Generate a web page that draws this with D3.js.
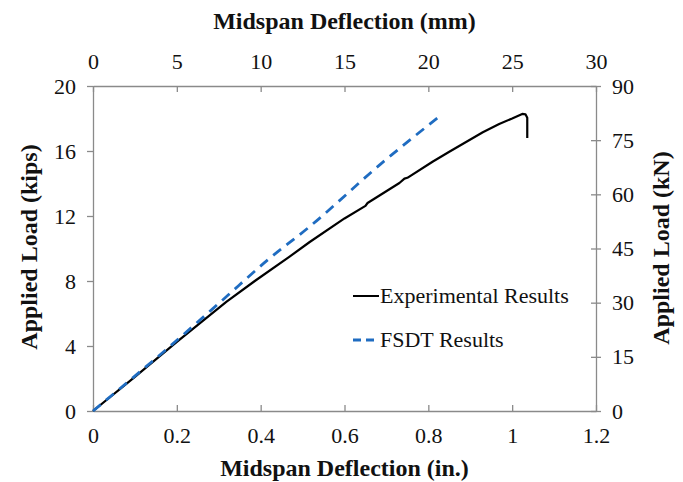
<!DOCTYPE html>
<html>
<head>
<meta charset="utf-8">
<script src="https://cdn.jsdelivr.net/npm/d3@7"></script>
<style>
body { margin: 0; background: #fff; }
svg text { font-family: "Liberation Serif", "Times New Roman", serif; fill: #111; }
</style>
</head>
<body>
<svg id="chart" width="683" height="482"></svg>
<script>
// deflection (in.) and load (kips)
var expDefl = [0, 0.1, 0.2, 0.318, 0.386, 0.469, 0.517, 0.6, 0.65, 0.655, 0.731, 0.743, 0.75, 0.81, 0.85, 0.89, 0.93, 0.969, 1.0, 1.024, 1.032, 1.036, 1.036];
var expLoad = [0, 2.1, 4.25, 6.72, 8.0, 9.5, 10.4, 11.85, 12.62, 12.8, 14.03, 14.3, 14.35, 15.34, 15.95, 16.55, 17.15, 17.66, 18.0, 18.28, 18.25, 18.05, 16.8];
var fsdtDefl = [0, 0.2, 0.31, 0.417, 0.517, 0.691, 0.834];
var fsdtLoad = [0, 4.35, 6.85, 9.3, 11.35, 15.3, 18.28];

var inTicks = [0, 0.2, 0.4, 0.6, 0.8, 1, 1.2];
var mmTicks = [0, 5, 10, 15, 20, 25, 30];
var kipTicks = [0, 4, 8, 12, 16, 20];
var knTicks = [0, 15, 30, 45, 60, 75, 90];

var mLeft = 93, mRight = 596, mTop = 86, mBottom = 411;
var axisColor = "#8a8a8a";

var svg = d3.select("#chart");

var x = d3.scaleLinear().domain([0, 1.2]).range([mLeft, mRight]);
var xmm = d3.scaleLinear().domain([0, 30]).range([mLeft, mRight]);
var y = d3.scaleLinear().domain([0, 20]).range([mBottom, mTop]);
var ykn = d3.scaleLinear().domain([0, 90]).range([mBottom, mTop]);

function styleAxis(g) {
  g.select(".domain").attr("stroke", axisColor).attr("stroke-width", 1.3);
  g.selectAll(".tick line").attr("stroke", axisColor).attr("stroke-width", 1.3);
  g.selectAll("text").attr("font-size", 22).attr("fill", "#111")
    .style("font-family", "'Liberation Serif', serif");
}

// bottom axis (in.)
svg.append("g")
    .attr("transform", "translate(0," + mBottom + ")")
    .call(d3.axisBottom(x).tickValues(inTicks).tickSizeInner(-6).tickSizeOuter(0)
      .tickPadding(16).tickFormat(d3.format("")))
    .call(styleAxis);

// top axis (mm)
svg.append("g")
    .attr("transform", "translate(0," + mTop + ")")
    .call(d3.axisTop(xmm).tickValues(mmTicks).tickSizeInner(-6).tickSizeOuter(0)
      .tickPadding(17))
    .call(styleAxis);

// left axis (kips)
svg.append("g")
    .attr("transform", "translate(" + mLeft + ",0)")
    .call(d3.axisLeft(y).tickValues(kipTicks).tickSizeInner(6).tickSizeOuter(0).tickPadding(11))
    .call(styleAxis);

// right axis (kN)
svg.append("g")
    .attr("transform", "translate(" + mRight + ",0)")
    .call(d3.axisRight(ykn).tickValues(knTicks).tickSizeInner(5).tickSizeOuter(0).tickPadding(11))
    .call(styleAxis)
    .selectAll(".tick line").attr("x1", -5);

// curves
var expData = expDefl.map(function(d, i) { return [d, expLoad[i]]; });
var fsdtData = fsdtDefl.map(function(d, i) { return [d, fsdtLoad[i]]; });

var line = d3.line()
    .x(function(d) { return x(d[0]); })
    .y(function(d) { return y(d[1]); });

svg.append("path")
    .datum(expData)
    .attr("d", line)
    .attr("fill", "none")
    .attr("stroke", "#000")
    .attr("stroke-width", 2.2)
    .attr("stroke-linejoin", "round");

svg.append("path")
    .datum(fsdtData)
    .attr("d", line.curve(d3.curveMonotoneX))
    .attr("fill", "none")
    .attr("stroke", "#1f6cc1")
    .attr("stroke-width", 2.8)
    .attr("stroke-dasharray", "10,7");

// legend
var legend = [
  {name: "Experimental Results", color: "#000", dash: null, w: 2},
  {name: "FSDT Results", color: "#1f6cc1", dash: "8,5", w: 2.8}
];
var lg = svg.selectAll(".legend").data(legend).enter().append("g")
    .attr("transform", function(d, i) { return "translate(353," + (296 + i * 44) + ")"; });
lg.append("line")
    .attr("x1", 0).attr("x2", 26)
    .attr("stroke", function(d) { return d.color; })
    .attr("stroke-width", function(d) { return d.w; })
    .attr("stroke-dasharray", function(d) { return d.dash; });
lg.append("text")
    .attr("x", 27).attr("y", 7)
    .attr("font-size", 22)
    .text(function(d) { return d.name; });

// axis titles
svg.append("text")
    .attr("x", (mLeft + mRight) / 2).attr("y", 29)
    .attr("text-anchor", "middle").attr("font-size", 24).attr("font-weight", "bold")
    .text("Midspan Deflection (mm)");
svg.append("text")
    .attr("x", (mLeft + mRight) / 2).attr("y", 476)
    .attr("text-anchor", "middle").attr("font-size", 24).attr("font-weight", "bold")
    .text("Midspan Deflection (in.)");
svg.append("text")
    .attr("transform", "translate(37,247) rotate(-90)")
    .attr("text-anchor", "middle").attr("font-size", 24).attr("font-weight", "bold")
    .text("Applied Load (kips)");
svg.append("text")
    .attr("transform", "translate(669,248) rotate(-90)")
    .attr("text-anchor", "middle").attr("font-size", 24).attr("font-weight", "bold")
    .text("Applied Load (kN)");
</script>
</body>
</html>
